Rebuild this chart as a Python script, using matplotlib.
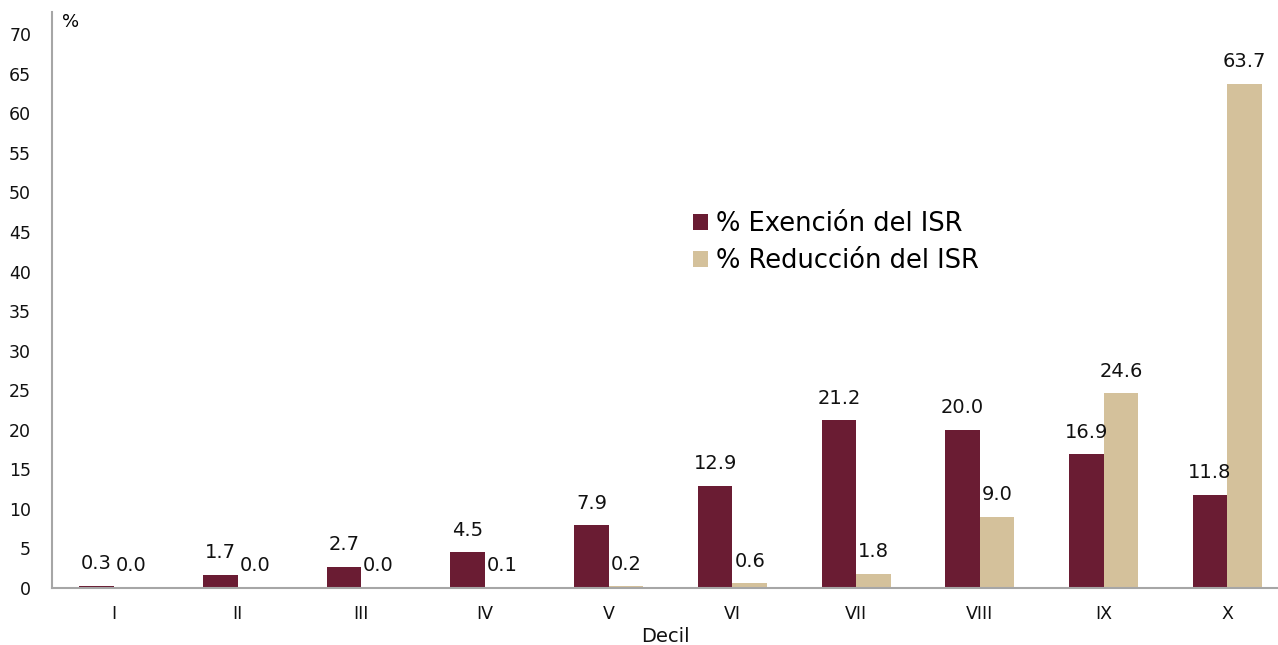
import numpy as np
import matplotlib.pyplot as plt

plt.rcParams['font.family'] = ['DejaVu Sans']

deciles = ['I', 'II', 'III', 'IV', 'V', 'VI', 'VII', 'VIII', 'IX', 'X']
exencion = [0.3, 1.7, 2.7, 4.5, 7.9, 12.9, 21.2, 20.0, 16.9, 11.8]
reduccion = [0.0, 0.0, 0.0, 0.1, 0.2, 0.6, 1.8, 9.0, 24.6, 63.7]

c_exe = '#6A1C33'
c_red = '#D4C19B'

fig = plt.figure(figsize=(12.78, 6.45), dpi=100)
ax = fig.add_axes([0.0407, 0.0884, 0.9593, 0.893])

x = np.arange(len(deciles))
w = 0.28
b1 = ax.bar(x - w / 2, exencion, w, color=c_exe, label='% Exención del ISR')
b2 = ax.bar(x + w / 2, reduccion, w, color=c_red, label='% Reducción del ISR')

for bars in (b1, b2):
    for b in bars:
        ax.annotate(f'{b.get_height():.1f}', (b.get_x() + b.get_width() / 2, b.get_height()),
                    xytext=(0, 9), textcoords='offset points', ha='center', va='bottom',
                    fontsize=14, color='#111111')

ax.set_xlim(-0.5, 9.41)
ax.set_ylim(0, 72.8)
ax.set_yticks(range(0, 71, 5))
ax.set_xticks(x)
ax.set_xticklabels(deciles)
ax.tick_params(axis='both', length=0, labelsize=12.5, colors='#111111')
ax.tick_params(axis='y', pad=15)
ax.tick_params(axis='x', pad=12)

for s in ('top', 'right'):
    ax.spines[s].set_visible(False)
for s in ('left', 'bottom'):
    ax.spines[s].set_color('#A6A6A6')
    ax.spines[s].set_linewidth(1.5)

ax.set_xlabel('Decil', fontsize=14, color='#111111', va='center')
ax.xaxis.set_label_coords(0.5, -0.085)
ax.text(0.008, 0.983, '%', transform=ax.transAxes, fontsize=13, va='center', ha='left')

ax.legend(loc='upper left', bbox_to_anchor=(0.504, 0.695), frameon=False, fontsize=18.5,
          handlelength=0.6, handleheight=0.6, handletextpad=0.3, labelspacing=0.45)

plt.savefig('out.png')
